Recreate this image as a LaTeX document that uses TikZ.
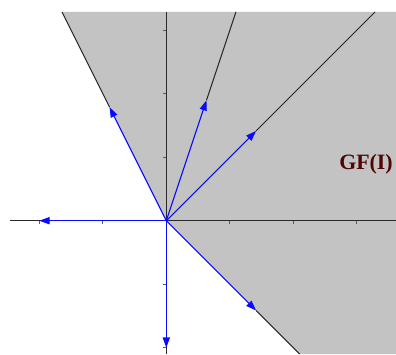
\documentclass[tikz,border=0pt]{standalone}
\usepackage{fontspec}
\setmainfont{Liberation Serif}
\usetikzlibrary{arrows.meta}
\definecolor{regiongray}{RGB}{195,195,195}
\definecolor{labelred}{RGB}{80,5,5}
\definecolor{axisgray}{RGB}{40,40,40}
\definecolor{rayblue}{RGB}{10,10,255}
\tikzset{
  axisline/.style={axisgray, line width=0.5pt},
  tickmark/.style={gray!70!black, line width=0.5pt},
  bound/.style={black!85, line width=0.45pt},
  ray/.style={rayblue, line width=0.5pt, -{Triangle[length=4.6pt,width=3.2pt]}},
  lbl/.style={labelred, font=\bfseries\fontsize{9.8}{11}\selectfont}
}
\begin{document}
\begin{tikzpicture}[x=1cm,y=1cm]
\useasboundingbox (-2.619,-2.099) rectangle (3.617,3.476);
% gray region
\fill[regiongray] (-1.6435,3.287) -- (0,0) -- (2.099,-2.099) -- (3.617,-2.099) -- (3.617,3.287) -- cycle;
% axes
\coordinate (O) at (0,0);
\coordinate (xl) at (-2.46,0);
\coordinate (xr) at (3.617,0);
\coordinate (yb) at (0,-2.099);
\coordinate (yt) at (0,3.287);
\draw[axisline] (xl) -- (xr);
\draw[axisline] (yb) -- (yt);
\foreach \t in {-2,-1,1,2,3} \draw[tickmark] (\t,0) -- (\t,-0.05);
\foreach \t in {-2,-1,1,2,3} \draw[tickmark] (0,\t) -- (-0.05,\t);
% arrow tips
\coordinate (a1) at (-0.8944,1.7889);
\coordinate (a2) at (0.6325,1.8974);
\coordinate (a3) at (1.4142,1.4142);
\coordinate (a4) at (1.4142,-1.4142);
\coordinate (a5) at (-2,0);
\coordinate (a6) at (0,-2);
% boundary ray ends
\coordinate (e1) at (-1.6435,3.287);
\coordinate (e2) at (1.0957,3.287);
\coordinate (e3) at (3.287,3.287);
\coordinate (e4) at (2.099,-2.099);
\draw[bound] (a1) -- (e1);
\draw[bound] (a2) -- (e2);
\draw[bound] (a3) -- (e3);
\draw[bound] (a4) -- (e4);
% vectors
\draw[ray] (O) -- (a1);
\draw[ray] (O) -- (a2);
\draw[ray] (O) -- (a3);
\draw[ray] (O) -- (a4);
\draw[ray] (O) -- (a5);
\draw[ray] (O) -- (a6);
% label
\node[lbl] (gf) at (3.145,0.885) {GF(I)};
\end{tikzpicture}
\end{document}
